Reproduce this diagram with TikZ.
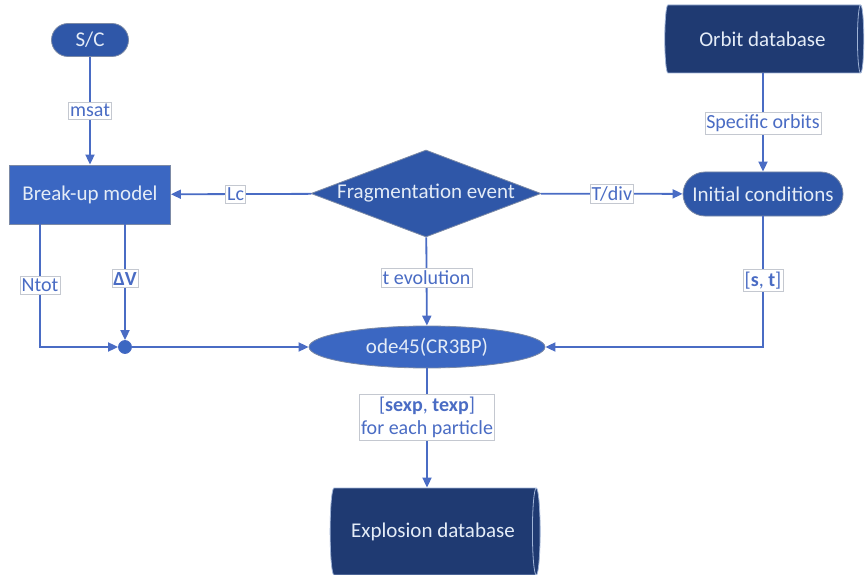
\documentclass[tikz,border=0pt]{standalone}
\usepackage{fontspec}
\setmainfont{Carlito}
\usetikzlibrary{shapes.geometric,arrows.meta}
\definecolor{flowblue}{HTML}{3B67C2}
\definecolor{darkflow}{HTML}{2F57A8}
\definecolor{navy}{HTML}{1F3A72}
\definecolor{edgegray}{HTML}{7C8AA6}
\definecolor{linkblue}{HTML}{4A6CC4}
\definecolor{nodetext}{HTML}{E4ECF7}
\definecolor{labelgray}{HTML}{C4C8D0}
\definecolor{rimline}{HTML}{9FB3D6}
\tikzset{
  x=1pt, y=-1pt,
  nodefont/.style={font=\fontsize{21}{24}\selectfont, text=nodetext},
  box/.style={nodefont, draw=edgegray, line width=0.8pt, fill=flowblue, rectangle,
    minimum width=161pt, minimum height=59pt, inner sep=0pt},
  terminal/.style={nodefont, draw=edgegray, line width=0.8pt, fill=darkflow, rectangle,
    rounded corners=#1, inner sep=0pt},
  decision/.style={nodefont, draw=edgegray, line width=0.8pt, fill=darkflow, diamond,
    aspect=2.64, inner sep=0pt, minimum width=230pt, minimum height=87pt},
  solver/.style={nodefont, draw=edgegray, line width=0.8pt, fill=flowblue, ellipse,
    inner sep=0pt, minimum width=236pt, minimum height=42pt},
  store/.style={nodefont, draw=rimline, line width=0.8pt, fill=navy, cylinder,
    shape aspect=0.43, inner sep=0pt},
  joint/.style={circle, fill=flowblue, draw=linkblue, line width=0.8pt,
    minimum size=13pt, inner sep=0pt},
  flow/.style={draw=linkblue, line width=1.8pt,
    -{Triangle[length=10pt,width=9pt]}},
  tag/.style={font=\fontsize{20}{23}\selectfont, text=linkblue, fill=white,
    draw=labelgray, line width=0.6pt, inner xsep=1.5pt, inner ysep=2.5pt, align=center},
}
\begin{document}
\begin{tikzpicture}
\useasboundingbox (0,0) rectangle (868,575);

% nodes
\node[terminal=16.5pt, minimum width=77pt, minimum height=33pt] (sc) at (90,40) {S/C};
\node[box] (breakup) at (90,194.5) {Break-up model};
\node[decision] (frag) at (426,193.5) {Fragmentation event};
\node[terminal=22pt, minimum width=160pt, minimum height=44pt] (init) at (763,194) {Initial conditions};
\node[store, minimum height=199pt, minimum width=68pt] (orbits) at (762.5,39) {Orbit database};
\node[joint] (dot) at (125,347) {};
\node[solver] (ode) at (427,347) {ode45(CR3BP)};
\node[store, minimum height=210pt, minimum width=87pt] (explosion) at (433,531.5) {Explosion database};

% helper coordinates for the elbow connectors
\coordinate (ntottop) at (40,224);
\coordinate (ntotturn) at (40,347);
\coordinate (dvtop) at (125,224);
\coordinate (stturn) at (763,347);

% connectors
\draw[flow] (sc) -- node[tag] {msat} (breakup);
\draw[flow] (frag) -- node[tag, pos=0.54] {Lc} (breakup);
\draw[flow] (frag) -- node[tag] {T/div} (init);
\draw[flow] (orbits.south -| init) -- node[tag, pos=0.51] {Specific orbits} (init);
\draw[flow] (ntottop) -- node[tag, pos=0.5] {Ntot} (ntotturn) -- (dot);
\draw[flow] (dvtop) -- node[tag, pos=0.47] {\textbf{ΔV}} (dot);
\draw[flow] (dot) -- (ode);
\draw[flow] (frag) -- node[tag, pos=0.46] {t evolution} (ode);
\draw[flow] (init) -- node[tag, pos=0.49] {[\textbf{s}, \textbf{t}]} (stturn) -- (ode);
\draw[flow] (ode) -- node[tag, pos=0.41] {[\textbf{sexp}, \textbf{texp}]\\for each particle} (ode |- explosion.north);
\end{tikzpicture}
\end{document}
